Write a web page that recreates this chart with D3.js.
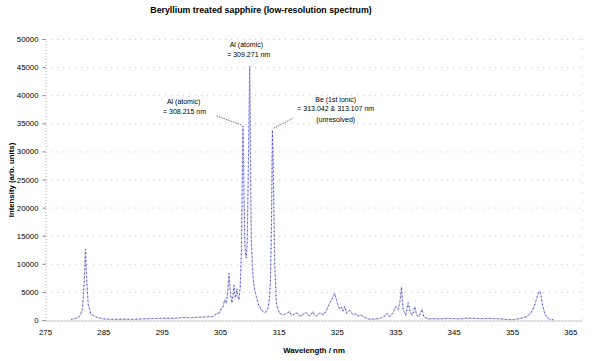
<!DOCTYPE html>
<html>
<head>
<meta charset="utf-8">
<script src="https://cdn.jsdelivr.net/npm/d3@7/dist/d3.min.js"></script>
<style>
body { margin: 0; background: #fff; }
svg { display: block; font-family: "Liberation Sans", Arial, sans-serif; }
</style>
</head>
<body>
<svg id="chart" width="593" height="361" viewBox="0 0 593 361"></svg>
<script>
// wavelength (nm) and intensity
var wavelength = [
	279.5, 280.3, 280.9, 281.4, 281.7, 281.94, 282.15, 282.4, 282.9, 283.8,
	284.6, 285.5, 287.0, 288.5, 290.0, 291.5, 293.0, 294.6, 296.0, 297.5,
	298.5, 300.0, 301.5, 302.5, 303.8, 304.4, 304.9, 305.2, 305.5, 305.8,
	306.07, 306.3, 306.52, 306.7, 306.81, 307.03, 307.2, 307.37, 307.5, 307.61,
	307.89, 308.05, 308.23, 308.45, 308.64, 308.8, 308.92, 309.05, 309.2, 309.35,
	309.5, 309.65, 309.85, 310.0, 310.07, 310.15, 310.25, 310.36, 310.63, 310.9,
	311.21, 311.6, 312.07, 312.64, 313.0, 313.2, 313.45, 313.61, 313.79, 313.96,
	314.08, 314.18, 314.35, 314.64, 315.0, 315.21, 315.78, 316.4, 316.92, 317.2,
	317.49, 318.07, 318.5, 318.93, 319.4, 319.79, 320.35, 320.92, 321.2, 321.5,
	322.07, 322.63, 323.1, 323.49, 324.07, 324.64, 325.03, 325.3, 325.5, 325.8,
	326.06, 326.35, 326.65, 327.21, 327.78, 328.2, 328.64, 329.1, 329.49, 330.08,
	330.64, 331.5, 332.36, 333.21, 333.61, 334.07, 334.64, 335.1, 335.5, 335.8,
	336.08, 336.35, 336.82, 337.21, 337.62, 337.96, 338.36, 338.65, 339.1, 339.56,
	339.9, 340.64, 341.5, 342.64, 344.0, 346.07, 347.5, 349.5, 351.0, 352.93,
	354.0, 355.21, 356.5, 357.51, 358.2, 358.64, 359.0, 359.33, 359.6, 359.79,
	360.0, 360.25, 360.65, 361.1, 361.51, 362.37
];
var intensity = [
	100, 300, 600, 1800, 6500, 12600, 7000, 2800, 1000, 500,
	300, 150, 100, 150, 100, 200, 250, 300, 350, 300,
	450, 400, 500, 550, 600, 1100, 1300, 2000, 2400, 3600,
	3000, 5000, 8300, 5500, 4400, 3000, 4500, 6200, 4800, 3900,
	5600, 4200, 3600, 5900, 12000, 25000, 34500, 26000, 15000, 11500,
	11000, 14000, 28000, 40000, 45200, 38000, 22000, 13700, 7700, 5500,
	4150, 2600, 1780, 1300, 1600, 2100, 3800, 6500, 16000, 33800,
	29000, 22000, 10100, 3000, 1700, 1200, 900, 1200, 1500, 900,
	900, 1300, 800, 700, 1200, 1300, 700, 1500, 800, 700,
	1300, 900, 1500, 2400, 3560, 4700, 3200, 2400, 1900, 2200,
	1600, 2400, 1200, 1700, 900, 1100, 700, 900, 600, 300,
	150, 150, 300, 700, 1200, 600, 1300, 2400, 1900, 3200,
	5900, 1800, 900, 3100, 1200, 900, 2400, 900, 600, 1900,
	600, 200, 250, 200, 300, 200, 350, 250, 300, 200,
	100, 50, 300, 600, 1200, 2000, 3000, 4200, 5000, 5100,
	4200, 2600, 1000, 400, 100, 0
];

var xTicks = [275, 285, 295, 305, 315, 325, 335, 345, 355, 365];
var yTicks = [0, 5000, 10000, 15000, 20000, 25000, 30000, 35000, 40000, 45000, 50000];

var titleText = "Beryllium treated sapphire (low-resolution spectrum)";
var xTitle = "Wavelength / nm";
var yTitle = "Intensity (arb. units)";

// annotation lines: text, wavelength, intensity where it sits
var noteLines = [
	["Al (atomic)", 309.5, 48570],
	["= 309.271  nm", 309.9, 46740],
	["Al (atomic)", 298.75, 38430],
	["= 308.215  nm", 298.9, 36650],
	["Be (1st ionic)", 324.8, 38840],
	["= 313.042 & 313.107 nm", 324.8, 37180],
	["(unresolved)", 324.8, 35280]
];
var leaders = [
	[[304.4, 36300], [308.7, 34700]],
	[[317.44, 35850], [314.18, 34150]]
];

var svg = d3.select("#chart");
var plotLeft = 45, plotRight = 582, plotTop = 39, plotBottom = 320;

var xScale = d3.scaleLinear().domain([275, 367]).range([plotLeft, plotRight]);
var yScale = d3.scaleLinear().domain([0, 50000]).range([plotBottom, plotTop]);

// gridlines
svg.append("g").selectAll("line")
	.data(yTicks.filter(function (d) { return d > 0; }))
	.enter().append("line")
	.attr("x1", plotLeft).attr("x2", plotRight)
	.attr("y1", function (d) { return yScale(d) + 0.5; })
	.attr("y2", function (d) { return yScale(d) + 0.5; })
	.attr("stroke", "#c9c9a6")
	.attr("stroke-width", 1)
	.attr("stroke-dasharray", "1,5");

// right border of plot area
svg.append("line")
	.attr("x1", plotRight + 0.5).attr("x2", plotRight + 0.5)
	.attr("y1", plotTop).attr("y2", plotBottom)
	.attr("stroke", "#d4d4b8")
	.attr("stroke-dasharray", "1,8");

// y axis
var yAxis = d3.axisLeft(yScale).tickValues(yTicks).tickSize(3).tickPadding(4)
	.tickFormat(d3.format("d"));
var gy = svg.append("g").attr("transform", "translate(" + (plotLeft + 0.5) + ",0)").call(yAxis);
gy.select(".domain").attr("stroke", "#a8a8a8").attr("stroke-dasharray", "1,2");
gy.selectAll("line").attr("stroke", "#888");
gy.selectAll("text").attr("font-size", "7.8px").attr("fill", "#000")
	.attr("font-family", "Liberation Sans, Arial, sans-serif");

// x axis
var xAxis = d3.axisBottom(xScale).tickValues(xTicks).tickSize(0).tickPadding(9);
var gx = svg.append("g").attr("transform", "translate(0," + (plotBottom + 0.5) + ")").call(xAxis);
gx.select(".domain").attr("stroke", "#a8a8a8").attr("stroke-dasharray", "2,1");
gx.selectAll("text").attr("font-size", "7.8px").attr("fill", "#000")
	.attr("font-family", "Liberation Sans, Arial, sans-serif");

// spectrum
var pts = wavelength.map(function (d, i) { return [d, intensity[i]]; });
var line = d3.line()
	.x(function (d) { return xScale(d[0]); })
	.y(function (d) { return yScale(d[1]); });

svg.append("path").datum(pts)
	.attr("d", line)
	.attr("fill", "none")
	.attr("stroke", "#c4c4e6")
	.attr("stroke-width", 1.2);
svg.append("path").datum(pts)
	.attr("d", line)
	.attr("fill", "none")
	.attr("stroke", "#3a3ac8")
	.attr("stroke-width", 1)
	.attr("stroke-dasharray", "1,3");

// annotations
svg.append("g").selectAll("text")
	.data(noteLines)
	.enter().append("text")
	.attr("x", function (d) { return xScale(d[1]); })
	.attr("y", function (d) { return yScale(d[2]); })
	.attr("text-anchor", "middle")
	.attr("font-size", "7px")
	.attr("fill", "#000")
	.text(function (d) { return d[0]; });

svg.append("g").selectAll("line")
	.data(leaders)
	.enter().append("line")
	.attr("x1", function (d) { return xScale(d[0][0]); })
	.attr("y1", function (d) { return yScale(d[0][1]); })
	.attr("x2", function (d) { return xScale(d[1][0]); })
	.attr("y2", function (d) { return yScale(d[1][1]); })
	.attr("stroke", "#555")
	.attr("stroke-width", 0.8)
	.attr("stroke-dasharray", "1.5,1");

// titles
svg.append("text")
	.attr("x", 261).attr("y", 13)
	.attr("text-anchor", "middle")
	.attr("font-size", "8.8px").attr("font-weight", "bold")
	.text(titleText);

svg.append("text")
	.attr("x", 314).attr("y", 353)
	.attr("text-anchor", "middle")
	.attr("font-size", "7.8px").attr("font-weight", "bold")
	.text(xTitle);

svg.append("text")
	.attr("transform", "translate(14,180) rotate(-90)")
	.attr("text-anchor", "middle")
	.attr("font-size", "7.8px").attr("font-weight", "bold")
	.text(yTitle);
</script>
</body>
</html>
